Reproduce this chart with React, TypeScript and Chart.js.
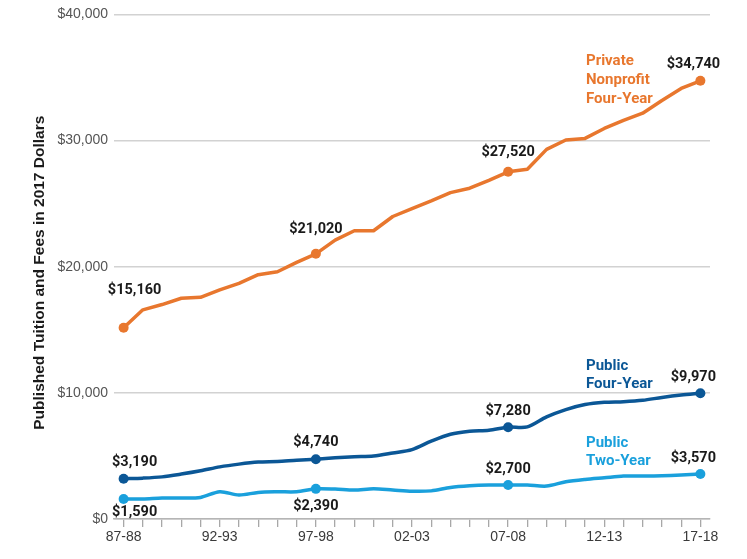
import React, { useEffect, useRef } from "react";
import { Chart, registerables } from "chart.js";

Chart.register(...registerables);

const years: string[] = [
  "87-88", "88-89", "89-90", "90-91", "91-92", "92-93", "93-94", "94-95", "95-96", "96-97",
  "97-98", "98-99", "99-00", "00-01", "01-02", "02-03", "03-04", "04-05", "05-06", "06-07",
  "07-08", "08-09", "09-10", "10-11", "11-12", "12-13", "13-14", "14-15", "15-16", "16-17",
  "17-18",
];

const privateNonprofit: number[] = [
  15160, 16580, 17000, 17500, 17570, 18160, 18680, 19370, 19600, 20340,
  21020, 22110, 22850, 22850, 23980, 24610, 25220, 25870, 26220, 26850,
  27520, 27720, 29300, 30040, 30170, 30960, 31600, 32170, 33180, 34130,
  34740,
];

const publicFourYear: number[] = [
  3190, 3240, 3340, 3560, 3820, 4130, 4350, 4510, 4560, 4660,
  4740, 4850, 4930, 4990, 5230, 5500, 6170, 6720, 6960, 7040,
  7280, 7300, 8090, 8670, 9070, 9250, 9300, 9410, 9640, 9830,
  9970,
];

const publicTwoYear: number[] = [
  1590, 1590, 1660, 1660, 1710, 2160, 1900, 2110, 2160, 2160,
  2390, 2370, 2290, 2400, 2300, 2200, 2230, 2500, 2630, 2690,
  2700, 2690, 2610, 2950, 3140, 3270, 3400, 3400, 3420, 3480,
  3570,
];

const yTicks: number[] = [0, 10000, 20000, 30000, 40000];
const markedIndices: number[] = [0, 10, 20, 30];
const seriesNames: string[][] = [
  ["Private", "Nonprofit", "Four-Year"],
  ["Public", "Four-Year"],
  ["Public", "Two-Year"],
];
const yTitle = "Published Tuition and Fees in 2017 Dollars";

const COLORS = ["#E8772E", "#0B5796", "#1AA0DC"];

// value-label placement: [datasetIndex, pointIndex, dx, dy]
const valueLabelOffsets: [number, number, number, number][] = [
  [0, 0, 11, -37], [0, 10, 0, -24], [0, 20, 0, -19], [0, 30, -7, -16],
  [1, 0, 11, -16], [1, 10, 0, -17], [1, 20, 0, -16], [1, 30, -7, -16],
  [2, 0, 11, 13], [2, 10, 0, 18], [2, 20, 0, -16], [2, 30, -7, -16],
];
// series-name placement: [category index anchor, value anchor of first line]
const nameAnchors: [number, number][] = [
  [24.05, 36260],
  [24.05, 12120],
  [24.05, 6030],
];

const fmt = (v: number) => "$" + v.toLocaleString("en-US");

const labelPlugin = {
  id: "labelPlugin",
  afterDatasetsDraw(chart: any) {
    const ctx = chart.ctx as CanvasRenderingContext2D;
    ctx.save();
    ctx.font = "bold 14.5px Roboto, 'Liberation Sans', sans-serif";
    ctx.fillStyle = "#1a1a1a";
    ctx.textAlign = "center";
    ctx.textBaseline = "middle";
    valueLabelOffsets.forEach(([ds, i, dx, dy]) => {
      const pt = chart.getDatasetMeta(ds).data[i];
      const v = chart.data.datasets[ds].data[i] as number;
      ctx.fillText(fmt(v), pt.x + dx, pt.y + dy);
    });
    const xs = chart.scales.x;
    const ys = chart.scales.y;
    ctx.font = "bold 15px Roboto, 'Liberation Sans', sans-serif";
    ctx.textAlign = "left";
    seriesNames.forEach((lines, s) => {
      const [ci, val] = nameAnchors[s];
      const x0 = xs.getPixelForValue(0);
      const x1 = xs.getPixelForValue(1);
      const x = x0 + (x1 - x0) * ci;
      const y = ys.getPixelForValue(val);
      ctx.fillStyle = COLORS[s];
      lines.forEach((line, k) => ctx.fillText(line, x, y + k * 18.6));
    });
    // y axis title
    ctx.font = "bold 15.5px 'Liberation Sans', Arial, sans-serif";
    ctx.fillStyle = "#1a1a1a";
    ctx.textAlign = "center";
    ctx.translate(40, (chart.chartArea.top + chart.chartArea.bottom) / 2 + 6);
    ctx.rotate(-Math.PI / 2);
    ctx.fillText(yTitle, 0, 0);
    ctx.restore();
  },
};

export default function App() {
  const ref = useRef<HTMLCanvasElement | null>(null);
  useEffect(() => {
    document.body.style.margin = "0";
    const canvas = ref.current!;
    const mk = (data: number[], c: number, tension: number) => ({
      data,
      borderColor: COLORS[c],
      backgroundColor: COLORS[c],
      borderWidth: 3.5,
      tension,
      pointRadius: data.map((_, i) => (markedIndices.includes(i) ? 5 : 0)),
      pointHoverRadius: 0,
      pointBorderWidth: 0,
      borderCapStyle: "round" as const,
      borderJoinStyle: "round" as const,
    });
    const chart = new Chart(canvas, {
      type: "line",
      data: {
        labels: years,
        datasets: [
          mk(privateNonprofit, 0, 0),
          mk(publicFourYear, 1, 0.3),
          mk(publicTwoYear, 2, 0.3),
        ],
      },
      options: {
        responsive: false,
        animation: false,
        devicePixelRatio: 1,
        layout: { padding: { left: 0, right: 37, top: 13, bottom: 0 } },
        plugins: { legend: { display: false }, tooltip: { enabled: false } },
        scales: {
          x: {
            type: "category",
            offset: true,
            grid: {
              drawOnChartArea: false,
              drawTicks: true,
              tickLength: 8,
              color: "#a8a8a8",
              lineWidth: 1.3,
            },
            border: { display: true, color: "#b5b5b5", width: 1.5 },
            ticks: {
              autoSkip: false,
              maxRotation: 0,
              padding: 2,
              color: "#3a3a3a",
              font: { family: "'Liberation Sans', Arial, sans-serif", size: 14 },
              callback: (_v: any, i: number) => (i % 5 === 0 ? years[i] : ""),
            },
            afterFit: (s: any) => {
              s.height = 40;
            },
          },
          y: {
            min: 0,
            max: 40000,
            afterBuildTicks: (s: any) => {
              s.ticks = yTicks.map((v) => ({ value: v }));
            },
            grid: { drawTicks: false, color: "#d2d2d2", lineWidth: 1.5 },
            border: { display: false },
            ticks: {
              padding: 6,
              color: "#555",
              font: { family: "'Liberation Sans', Arial, sans-serif", size: 14 },
              callback: (v: any) => fmt(Number(v)),
            },
            afterFit: (s: any) => {
              s.width = 114;
            },
          },
        },
      },
      plugins: [labelPlugin],
    });
    return () => chart.destroy();
  }, []);
  return (
    <div style={{ position: "absolute", left: 0, top: 0, width: 747, height: 559, background: "#fff" }}>
      <canvas ref={ref} width={747} height={559} />
    </div>
  );
}
